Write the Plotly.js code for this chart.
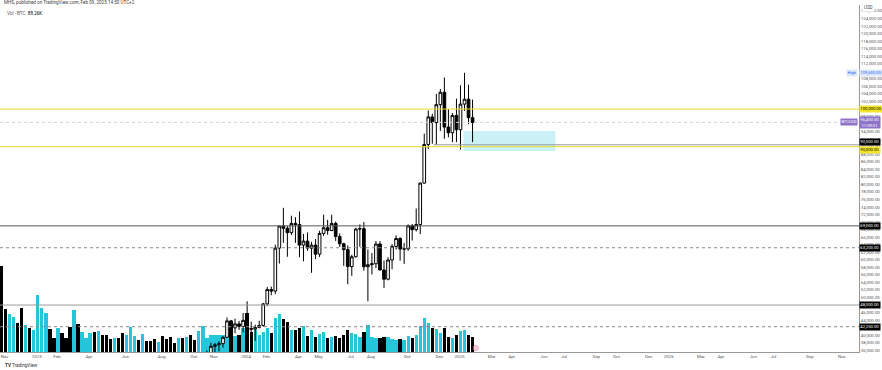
<!DOCTYPE html>
<html><head><meta charset="utf-8">
<script src="https://cdn.plot.ly/plotly-3.0.1.min.js"></script>
<style>html,body{margin:0;padding:0;background:#fff;}#chart{width:882px;height:370px;}</style>
</head><body><div id="chart"></div>
<script>
// ---- weekly volume (thousand BTC), first week 2022-11-07 ----
const volFirstWeek = '2022-11-07';
const volume = [506,253,224,206,171,259,159,141,129,335,259,229,135,82,141,112,82,147,247,165,
118,82,112,118,124,100,100,76,82,82,112,100,147,94,71,106,65,65,76,59,
94,76,88,53,82,82,88,100,71,124,153,82,100,100,100,100,94,177,94,100,
141,229,118,129,100,118,141,112,200,224,194,177,129,129,141,153,94,129,88,106,
118,82,88,94,82,100,129,112,106,88,118,159,88,82,82,88,88,76,71,76,
71,94,82,100,153,200,171,141,135,112,141,88,82,100,124,129,100,88.26];
const volUp = [0,0,1,1,0,0,1,0,1,1,1,1,0,0,1,0,0,0,1,0,
1,1,1,0,1,0,0,0,1,0,0,1,1,1,0,1,0,0,0,1,
0,0,0,0,1,0,1,0,0,1,1,1,1,1,1,1,1,0,1,0,
1,0,0,1,1,1,1,0,1,1,0,0,1,0,0,1,0,1,0,1,
1,0,1,0,0,0,0,1,1,1,0,1,1,1,0,0,1,1,1,0,
1,1,0,1,1,1,1,0,1,1,0,0,1,0,1,1,0,0];

// ---- weekly candles (USD), first week 2023-10-30 ----
const candleFirstWeek = '2023-10-30';
const open  = [34500,35050,37050,37450,37750,39450,43800,41950,43000,42300,43950,41750,41600,42050,42600,48300,52100,51700,63100,68950,
68350,67200,69650,69350,63900,64950,63100,63900,61500,67000,68500,67750,69650,66200,64250,62700,58200,60800,68150,68250,
58150,58700,58950,64200,57300,54850,59950,63550,65650,62850,62900,69000,68000,69350,80350,90600,97900,96400,101150,104450,
95200,93700,98300,94500,101300,102600,97700];
const high  = [35980,38000,37980,38400,39700,44700,44000,44400,43800,45900,49000,43600,42800,43850,48600,52800,52900,64000,69000,73800,
68950,71700,71300,72800,66850,67250,64750,65500,67700,71950,70600,71950,70150,67000,64500,63800,61350,68500,69400,70000,
62750,61800,65000,64950,59800,60700,64150,66500,66000,64450,69400,69500,73600,80500,93450,99600,98700,104000,105300,108350,
99950,98950,102750,106300,109600,106450,102500];
const low   = [34100,34500,35350,35700,36700,39300,40200,40500,41400,40750,41500,40300,38500,41800,42250,47700,50600,50900,59000,64500,
60800,66600,64500,60700,59600,62400,56550,60200,60750,66300,66650,67600,65000,63400,58400,53500,55750,60600,63450,57100,
49000,56100,57800,57200,52550,54550,57500,62700,59800,58900,62400,65100,67500,66800,80200,89400,90800,90500,94200,92100,
92500,91200,91200,89250,99500,96000,91200];
const close = [35050,37050,37450,37750,39450,43800,41950,43000,42300,43950,41750,41600,42050,42600,48300,52100,51700,63100,68950,68350,
67200,69650,69350,63900,64950,63100,63900,61500,67000,68500,67750,69650,66200,64250,62700,58200,60800,68150,68250,58150,
58700,58950,64200,57300,54850,59950,63550,65650,62850,62900,69000,68000,69350,80350,90600,97900,96400,101150,104450,95200,
93700,98300,94500,101300,102600,97700,96450];

// ---- horizontal levels ----
const levelPrices = [100000, 90000, 69000, 63200, 48000, 42250];
const levelKinds  = ['yellow','yellow','solid','dot','solid','dot'];
const rayPrice = 90500, rayStart = '2024-11-27';
const zoneX = ['2025-01-18','2025-06-27'], zoneY = [88860, 94160];

// ---- x tick labels ----
const xTickVals = ['2022-11-07','2023-01-02','2023-02-06','2023-04-03','2023-06-05','2023-08-07','2023-10-02','2023-11-06',
'2024-01-01','2024-02-05','2024-04-01','2024-05-06','2024-07-01','2024-08-05','2024-10-07','2024-12-02',
'2025-01-06','2025-03-03','2025-04-07','2025-06-02','2025-07-07','2025-09-01','2025-10-06','2025-12-01',
'2026-01-05','2026-03-02','2026-04-06','2026-06-01','2026-07-06','2026-09-07','2026-11-02'];
const xTickText = ['Nov','2023','Feb','Apr','Jun','Aug','Oct','Nov','2024','Feb','Apr','May','Jul','Aug','Oct','Dec',
'2025','Mar','Apr','Jun','Jul','Sep','Oct','Dec','2026','Mar','Apr','Jun','Jul','Sep','Nov'];

function weeks(start, n){
  const out=[]; const t0=Date.parse(start+'T00:00:00Z');
  for(let i=0;i<n;i++){ out.push(new Date(t0+i*7*86400000).toISOString().slice(0,10)); }
  return out;
}
const volDates = weeks(volFirstWeek, volume.length);
const cDates = weeks(candleFirstWeek, open.length);
const CYAN='#26c6da', BLK='#000000';
const xRange=['2022-11-04 06:00','2026-12-07'];
const fmt = v => v.toLocaleString('en-US',{minimumFractionDigits:2,maximumFractionDigits:2});

const traces = [
 {type:'bar', x:volDates, y:volume, yaxis:'y', marker:{color:volUp.map(u=>u?CYAN:BLK), line:{width:0}},
  width:0.82*7*86400000, hoverinfo:'skip'},
 {type:'candlestick', x:cDates, open:open, high:high, low:low, close:close, yaxis:'y2',
  increasing:{line:{color:'#000',width:1}, fillcolor:'#ffffff'},
  decreasing:{line:{color:'#000',width:1}, fillcolor:'#000000'},
  whiskerwidth:0, hoverinfo:'skip'}
];

const shapes = [];
levelPrices.forEach((p,i)=>{
  const k=levelKinds[i];
  shapes.push({type:'line', xref:'paper', x0:0, x1:1, yref:'y2', y0:p, y1:p,
    line:{color: k==='yellow'?'#e8dc22': (k==='solid'? (p>60000?'#555':'#999') : '#888'), width:1, dash: k==='dot'?'dot':'solid'}});
});
shapes.push({type:'line', xref:'x', x0:rayStart, x1:xRange[1], yref:'y2', y0:rayPrice, y1:rayPrice, line:{color:'#999',width:1}});
shapes.push({type:'line', xref:'paper', x0:0, x1:1, yref:'y2', y0:close[close.length-1], y1:close[close.length-1], line:{color:'#d3cfe2',width:1,dash:'dot'}});
shapes.push({type:'rect', xref:'x', x0:zoneX[0], x1:zoneX[1], yref:'y2', y0:zoneY[0], y1:zoneY[1], fillcolor:'rgba(38,198,218,0.25)', line:{width:0}, layer:'below'});
shapes.push({type:'circle', xref:'x', x0:'2025-02-04', x1:'2025-02-13', yref:'paper', y0:0.004, y1:0.019, fillcolor:'rgba(240,120,150,0.35)', line:{color:'#e57399',width:0.6}});

const F = 'Roboto, "Liberation Sans", Arial, sans-serif';
const ann = [];
function axLabel(price, text, bg, fg, yshift){
  ann.push({xref:'paper', x:1, xanchor:'left', xshift:0, yref:'y2', y:price, yshift:yshift||0, text:text, showarrow:false,
    bgcolor:bg, font:{family:F,size:4.2,color:fg}, borderpad:0.3});
}
axLabel(100000, fmt(100000), '#f2e52a', '#000');
axLabel(90000, fmt(90000), '#f2e52a', '#000', -3.2);
axLabel(rayPrice, fmt(rayPrice), '#000', '#fff', 3.2);
axLabel(69000, fmt(69000), '#000', '#fff');
axLabel(63200, fmt(63200), '#000', '#fff');
axLabel(48000, fmt(48000), '#000', '#fff');
axLabel(42250, fmt(42250), '#000', '#fff');
const last = close[close.length-1];
axLabel(last, fmt(last)+'<br>11:09:51', '#8c72c8', '#fff');
const hi = Math.max(...high);
axLabel(hi, fmt(hi), '#dde9fb', '#2962ff');
ann.push({xref:'paper', x:1, xanchor:'right', xshift:-1, yref:'y2', y:hi, text:'High', showarrow:false, font:{family:F,size:4.2,color:'#2962ff'}, bgcolor:'#dde9fb', borderpad:0.4});
ann.push({xref:'paper', x:1, xanchor:'right', xshift:-1, yref:'y2', y:last, text:'BTCUSD', showarrow:false, font:{family:F,size:4.0,color:'#fff'}, bgcolor:'#8c72c8', borderpad:0.4});
ann.push({xref:'paper', x:1, xanchor:'left', xshift:3, yref:'paper', y:1.0, yanchor:'bottom', yshift:-7, text:'USD', showarrow:false, font:{family:F,size:4.5,color:'#444'}, bgcolor:'#fff'});
ann.push({xref:'paper', x:0, xanchor:'left', xshift:2, yref:'paper', y:1, yanchor:'bottom', yshift:-2, text:'MHS, published on TradingView.com, Feb 09, 2025 14:50 UTC+2', showarrow:false, font:{family:F,size:4.6,color:'#444'}});
ann.push({xref:'paper', x:0, xanchor:'left', xshift:5, yref:'paper', y:1, yanchor:'middle', yshift:-8, text:'Vol · BTC  <span style="color:#000">'+volume[volume.length-1].toFixed(2)+'K</span>', showarrow:false, font:{family:F,size:4.6,color:'#555'}});
ann.push({xref:'paper', x:0, xanchor:'left', xshift:3, yref:'paper', y:0, yanchor:'middle', yshift:-13, text:'<b>TV</b> TradingView', showarrow:false, font:{family:F,size:4.6,color:'#333'}});

const layout = {
  width:882, height:370, margin:{l:0,r:23,t:5,b:18},
  paper_bgcolor:'#fff', plot_bgcolor:'#fff', showlegend:false, bargap:0, boxgap:0.05,
  font:{family:F, size:4.6, color:'#444'},
  xaxis:{type:'date', range:xRange, rangeslider:{visible:false}, showgrid:false, zeroline:false,
    showline:true, linecolor:'#999', linewidth:1, ticks:'', tickvals:xTickVals, ticktext:xTickText,
    ticklabelshift:3, ticklabeloverflow:'allow', tickfont:{family:F,size:4.4,color:'#555'}, fixedrange:true},
  yaxis:{range:[0,2042], visible:false, showgrid:false, fixedrange:true},
  yaxis2:{overlaying:'y', side:'right', range:[35544,127586], dtick:2000, tickformat:',.2f',
    showgrid:false, zeroline:false, showline:true, linecolor:'#999', linewidth:1, ticks:'',
    tickfont:{family:F,size:4.3,color:'#555'}, fixedrange:true},
  shapes:shapes, annotations:ann
};
Plotly.newPlot('chart', traces, layout, {staticPlot:true, displayModeBar:false});
</script></body></html>
